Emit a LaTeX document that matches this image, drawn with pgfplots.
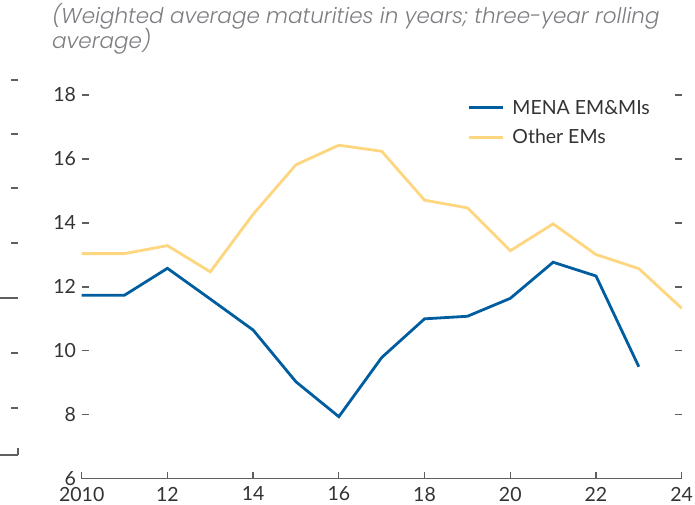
\documentclass[border=0pt]{standalone}
\usepackage{fontspec}
\setmainfont{Lato}
\IfFontExistsTF{Poppins Light Italic}
  {\newfontfamily\titlefont{Poppins Light Italic}}
  {\IfFontExistsTF{Poppins Italic}
     {\newfontfamily\titlefont{Poppins Italic}}
     {\newfontfamily\titlefont{Lato Italic}}}
\usepackage{pgfplots}
\pgfplotsset{compat=1.18}
\definecolor{menablue}{RGB}{0,94,160}
\definecolor{otheryellow}{RGB}{255,214,128}
\definecolor{tickgray}{RGB}{95,95,95}
\definecolor{labelgray}{RGB}{51,51,51}
\definecolor{titlegray}{RGB}{125,125,130}
\begin{document}
\begin{tikzpicture}[x=1pt,y=1pt]
\useasboundingbox (0,-504) rectangle (695,0);
% title
\node[anchor=base west, inner sep=0pt, text=titlegray, font=\fontsize{21.5}{25}\titlefont] at (52,-23.5) {(Weighted average maturities in years; three-year rolling};
\node[anchor=base west, inner sep=0pt, text=titlegray, font=\fontsize{21.5}{25}\titlefont] at (52,-48) {average)};

% neighbouring panel (only its right edge is visible)
\begin{axis}[at={(18pt,-455pt)}, anchor=south east, width=120pt, height=375pt, scale only axis,
  xmin=0, xmax=1, ymin=0, ymax=375, axis line style={draw=none},
  xtick={1}, xticklabels={}, xtick pos=bottom,
  ytick={47,102,157,212,267,321,375}, yticklabels={}, ytick pos=right,
  tick align=inside, major tick length=6.6pt, tick style={tickgray, line width=1.3pt}, clip=false]
\draw[tickgray, line width=1.4pt] (axis cs:0,0) -- (axis cs:1,0);
\draw[tickgray, line width=1.3pt] (axis cs:0,157) -- (axis cs:1,157);
\end{axis}

\begin{axis}[at={(81.7pt,-478.7pt)}, anchor=south west, width=600pt, height=383.7pt, scale only axis,
  xmin=2010, xmax=2024, ymin=6, ymax=18, axis line style={draw=none},
  xtick={2010,2012,...,2024}, xticklabels={2010,12,14,16,18,20,22,24},
  ytick={6,8,...,18}, xtick pos=bottom, ytick pos=both, yticklabel pos=left,
  tick align=inside, major tick length=7pt, tick style={tickgray, line width=1.3pt},
  ticklabel style={font=\fontsize{19.5}{22}\selectfont, text=labelgray},
  yticklabel style={inner sep=0pt, xshift=-5.5pt},
  xticklabel style={inner sep=0pt, yshift=-8pt},
  /pgf/number format/assume math mode=true,
  clip=false,
  legend cell align=left,
  legend style={at={(axis cs:2019.0,17.85)}, anchor=north west, draw=none, fill=none,
    inner sep=0pt, font=\fontsize{19.5}{22}\selectfont, text=labelgray, row sep=14pt,
    nodes={inner sep=0pt}, /tikz/every odd column/.append style={column sep=8pt}},
  legend image code/.code={\draw[#1] (0pt,0pt) -- (34pt,0pt);}
]
\draw[tickgray, line width=1.4pt] (axis cs:2010,6) -- (axis cs:2024,6);
\addplot[menablue, line width=2.8pt] coordinates {
(2010,11.74) (2011,11.74) (2012,12.58) (2013,11.62) (2014,10.65) (2015,9.03) (2016,7.94)
(2017,9.79) (2018,11.0) (2019,11.08) (2020,11.64) (2021,12.77) (2022,12.34) (2023,9.5)};
\addlegendentry{MENA EM\&MIs}
\addplot[otheryellow, line width=2.8pt] coordinates {
(2010,13.04) (2011,13.04) (2012,13.29) (2013,12.47) (2014,14.27) (2015,15.82) (2016,16.43)
(2017,16.24) (2018,14.71) (2019,14.47) (2020,13.13) (2021,13.97) (2022,13.01) (2023,12.57) (2024,11.33)};
\addlegendentry{Other EMs}
\end{axis}
\end{tikzpicture}
\end{document}
